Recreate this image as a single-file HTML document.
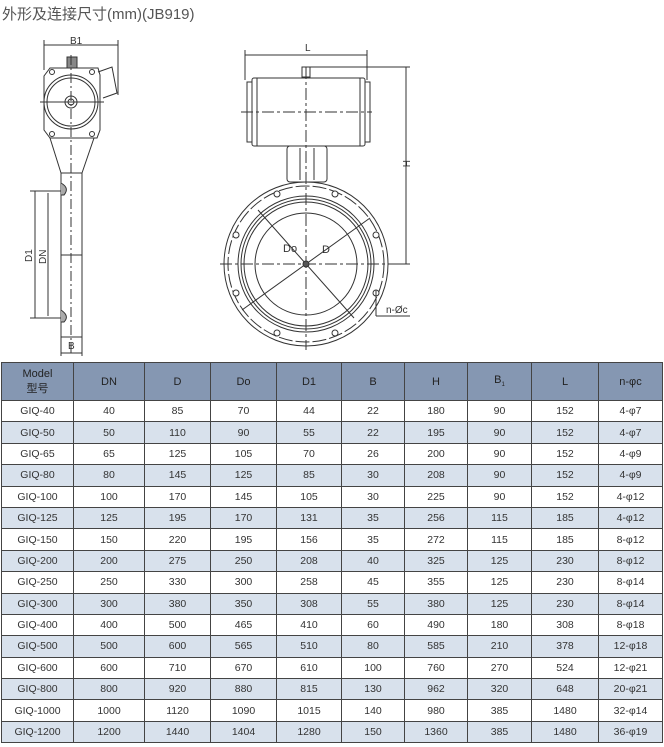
<!DOCTYPE html>
<html><head><meta charset="utf-8"><style>
body{margin:0;width:664px;height:747px;background:#fff;position:relative;overflow:hidden;font-family:"Liberation Sans","Noto Sans CJK SC",sans-serif}
.t{position:absolute;left:2px;top:3px;font-size:15px;color:#555}
svg{position:absolute;left:0;top:0}
table{position:absolute;left:1px;top:362px;width:662px;border-collapse:collapse;font-size:10.5px;color:#333}
td{border:1px solid #444;text-align:center;height:20.4px;padding:0}
tr.h td{background:#8597b2;height:37px;font-size:11px;color:#222}
tr.b td{background:#d8e1ec}
</style></head><body>
<div class="t">外形及连接尺寸(mm)(JB919)</div>
<svg width="664" height="362" viewBox="0 0 664 362" fill="none" stroke="#333" stroke-width="1">
<!-- side view -->
<line x1="44" y1="45" x2="118" y2="45"/><line x1="44" y1="40" x2="44" y2="70"/><line x1="118" y1="40" x2="118" y2="95"/>
<text x="70" y="44" font-size="10" fill="#333" stroke="none">B1</text>
<rect x="67" y="57" width="10" height="11" fill="#888"/>
<path d="M50 68 H98 L100 75 V130 L97 138 H50 L44 130 V76 Z"/>
<path d="M98 72 L112 67 L117 93 L103 98"/>
<circle cx="71" cy="102" r="27"/><circle cx="71" cy="102" r="24"/>
<circle cx="71" cy="102" r="6"/><circle cx="71" cy="102" r="3"/>
<circle cx="52" cy="72" r="2.5"/><circle cx="92" cy="72" r="2.5"/><circle cx="52" cy="134" r="2.5"/><circle cx="92" cy="134" r="2.5"/>
<path d="M50 138 L61 173 M94 138 L82 173"/>
<rect x="61" y="173" width="21" height="164"/>
<line x1="61" y1="255" x2="82" y2="255"/>
<line x1="71" y1="55" x2="71" y2="355" stroke-dasharray="10,3,2,3"/>
<line x1="40" y1="102" x2="104" y2="102"/>
<path d="M61 183 Q70 188 64 195 L61 195" fill="#aaa"/><path d="M61 310 Q70 316 64 322 L61 322" fill="#aaa"/>
<line x1="35" y1="191" x2="35" y2="318"/><line x1="30" y1="191" x2="61" y2="191"/><line x1="30" y1="318" x2="61" y2="318"/>
<line x1="48" y1="193" x2="48" y2="316"/>
<text x="32" y="262" font-size="10" fill="#333" stroke="none" transform="rotate(-90 32 262)">D1</text>
<text x="46" y="264" font-size="10" fill="#333" stroke="none" transform="rotate(-90 46 264)">DN</text>
<line x1="61" y1="337" x2="61" y2="356"/><line x1="82" y1="337" x2="82" y2="356"/><line x1="61" y1="353" x2="82" y2="353"/>
<text x="68" y="349" font-size="10" fill="#333" stroke="none">B</text>
<!-- front view -->
<line x1="245" y1="55" x2="367" y2="55"/><line x1="245" y1="50" x2="245" y2="80"/><line x1="367" y1="50" x2="367" y2="80"/>
<text x="305" y="51" font-size="10" fill="#333" stroke="none">L</text>
<rect x="302" y="67" width="8" height="10"/><line x1="310" y1="67" x2="410" y2="67"/>
<rect x="252" y="78" width="113" height="68" rx="2"/>
<line x1="257" y1="78" x2="257" y2="146"/><line x1="360" y1="78" x2="360" y2="146"/>
<rect x="247" y="82" width="5" height="60"/><rect x="365" y="82" width="5" height="60"/>
<line x1="241" y1="112" x2="372" y2="112" stroke-dasharray="12,3,3,3"/>
<rect x="287" y="146" width="40" height="36" rx="3"/>
<line x1="300" y1="148" x2="300" y2="180"/><line x1="314" y1="148" x2="314" y2="180"/>
<circle cx="306" cy="264" r="82"/><circle cx="306" cy="264" r="78" stroke-dasharray="14,3"/>
<circle cx="306" cy="264" r="68"/><circle cx="306" cy="264" r="65"/><circle cx="306" cy="264" r="62"/><circle cx="306" cy="264" r="51"/>
<g fill="#fff"><circle cx="277" cy="194" r="3"/><circle cx="335" cy="194" r="3"/><circle cx="236" cy="235" r="3"/><circle cx="376" cy="235" r="3"/><circle cx="236" cy="293" r="3"/><circle cx="376" cy="293" r="3"/><circle cx="277" cy="333" r="3"/><circle cx="335" cy="333" r="3"/></g>
<line x1="306" y1="67" x2="306" y2="350" stroke-dasharray="12,3,3,3"/>
<line x1="220" y1="264" x2="395" y2="264" stroke-dasharray="12,3,3,3"/>
<line x1="258" y1="210" x2="354" y2="318"/><line x1="370" y1="218" x2="242" y2="310"/>
<circle cx="306" cy="264" r="3" fill="#555"/>
<text x="283" y="252" font-size="11" fill="#333" stroke="none">Do</text>
<text x="322" y="253" font-size="11" fill="#333" stroke="none">D</text>
<line x1="406" y1="67" x2="406" y2="264"/><line x1="390" y1="264" x2="410" y2="264"/>
<text x="403" y="160" font-size="10" fill="#333" stroke="none" transform="rotate(90 403 160)">H</text>
<line x1="376" y1="290" x2="376" y2="316"/><line x1="376" y1="316" x2="410" y2="316"/>
<text x="386" y="313" font-size="10" fill="#333" stroke="none">n-Øc</text>
</svg>
<table>
<colgroup><col style="width:72px"><col style="width:71px"><col style="width:66px"><col style="width:66px"><col style="width:65px"><col style="width:63px"><col style="width:63px"><col style="width:64px"><col style="width:67px"><col></colgroup>
<tr class="h"><td>Model<br>型号</td><td>DN</td><td>D</td><td>Do</td><td>D1</td><td>B</td><td>H</td><td>B<sub style="font-size:6px">1</sub></td><td>L</td><td>n-φc</td></tr>
<tr><td>GIQ-40</td><td>40</td><td>85</td><td>70</td><td>44</td><td>22</td><td>180</td><td>90</td><td>152</td><td>4-φ7</td></tr>
<tr class="b"><td>GIQ-50</td><td>50</td><td>110</td><td>90</td><td>55</td><td>22</td><td>195</td><td>90</td><td>152</td><td>4-φ7</td></tr>
<tr><td>GIQ-65</td><td>65</td><td>125</td><td>105</td><td>70</td><td>26</td><td>200</td><td>90</td><td>152</td><td>4-φ9</td></tr>
<tr class="b"><td>GIQ-80</td><td>80</td><td>145</td><td>125</td><td>85</td><td>30</td><td>208</td><td>90</td><td>152</td><td>4-φ9</td></tr>
<tr><td>GIQ-100</td><td>100</td><td>170</td><td>145</td><td>105</td><td>30</td><td>225</td><td>90</td><td>152</td><td>4-φ12</td></tr>
<tr class="b"><td>GIQ-125</td><td>125</td><td>195</td><td>170</td><td>131</td><td>35</td><td>256</td><td>115</td><td>185</td><td>4-φ12</td></tr>
<tr><td>GIQ-150</td><td>150</td><td>220</td><td>195</td><td>156</td><td>35</td><td>272</td><td>115</td><td>185</td><td>8-φ12</td></tr>
<tr class="b"><td>GIQ-200</td><td>200</td><td>275</td><td>250</td><td>208</td><td>40</td><td>325</td><td>125</td><td>230</td><td>8-φ12</td></tr>
<tr><td>GIQ-250</td><td>250</td><td>330</td><td>300</td><td>258</td><td>45</td><td>355</td><td>125</td><td>230</td><td>8-φ14</td></tr>
<tr class="b"><td>GIQ-300</td><td>300</td><td>380</td><td>350</td><td>308</td><td>55</td><td>380</td><td>125</td><td>230</td><td>8-φ14</td></tr>
<tr><td>GIQ-400</td><td>400</td><td>500</td><td>465</td><td>410</td><td>60</td><td>490</td><td>180</td><td>308</td><td>8-φ18</td></tr>
<tr class="b"><td>GIQ-500</td><td>500</td><td>600</td><td>565</td><td>510</td><td>80</td><td>585</td><td>210</td><td>378</td><td>12-φ18</td></tr>
<tr><td>GIQ-600</td><td>600</td><td>710</td><td>670</td><td>610</td><td>100</td><td>760</td><td>270</td><td>524</td><td>12-φ21</td></tr>
<tr class="b"><td>GIQ-800</td><td>800</td><td>920</td><td>880</td><td>815</td><td>130</td><td>962</td><td>320</td><td>648</td><td>20-φ21</td></tr>
<tr><td>GIQ-1000</td><td>1000</td><td>1120</td><td>1090</td><td>1015</td><td>140</td><td>980</td><td>385</td><td>1480</td><td>32-φ14</td></tr>
<tr class="b"><td>GIQ-1200</td><td>1200</td><td>1440</td><td>1404</td><td>1280</td><td>150</td><td>1360</td><td>385</td><td>1480</td><td>36-φ19</td></tr>
</table>
</body></html>
